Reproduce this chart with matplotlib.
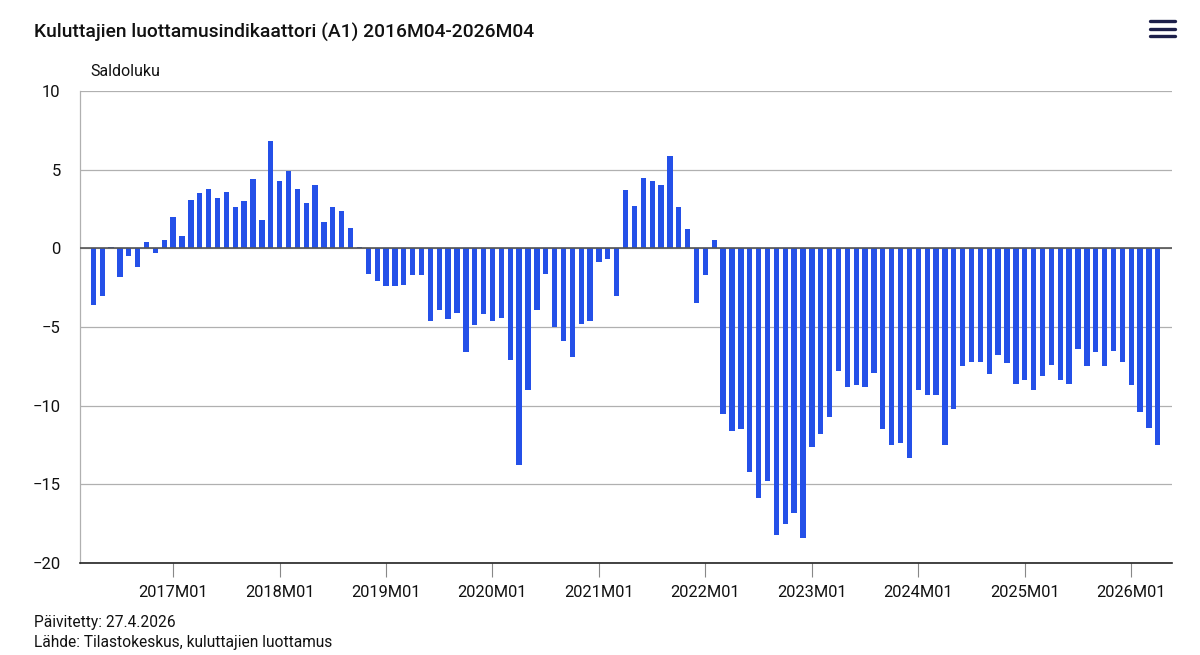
import matplotlib.pyplot as plt
from matplotlib.lines import Line2D

plt.rcParams['font.family'] = ['Roboto', 'DejaVu Sans']

# Monthly values 2016M04 - 2026M04 (saldoluku)
values = [
    -3.6, -3.0, 0.1, -1.8, -0.5, -1.2, 0.4, -0.3, 0.5,             # 2016M04-M12
    2.0, 0.8, 3.1, 3.5, 3.8, 3.2, 3.6, 2.6, 3.0, 4.4, 1.8, 6.8,     # 2017
    4.3, 4.9, 3.8, 2.9, 4.0, 1.7, 2.6, 2.4, 1.3, 0.1, -1.6, -2.1,   # 2018
    -2.4, -2.4, -2.3, -1.7, -1.7, -4.6, -3.9, -4.5, -4.1, -6.6, -4.9, -4.2,  # 2019
    -4.6, -4.4, -7.1, -13.8, -9.0, -3.9, -1.6, -5.0, -5.9, -6.9, -4.8, -4.6,  # 2020
    -0.9, -0.7, -3.0, 3.7, 2.7, 4.5, 4.3, 4.0, 5.9, 2.6, 1.2, -3.5,  # 2021
    -1.7, 0.5, -10.5, -11.6, -11.5, -14.2, -15.9, -14.8, -18.2, -17.5, -16.8, -18.4,  # 2022
    -12.6, -11.8, -10.7, -7.8, -8.8, -8.7, -8.8, -7.9, -11.5, -12.5, -12.4, -13.3,  # 2023
    -9.0, -9.3, -9.3, -12.5, -10.2, -7.5, -7.2, -7.2, -8.0, -6.8, -7.3, -8.6,  # 2024
    -8.4, -9.0, -8.1, -7.4, -8.4, -8.6, -6.4, -7.5, -6.6, -7.5, -6.5, -7.2,  # 2025
    -8.7, -10.4, -11.4, -12.5,                                       # 2026M01-M04
]
months = list(range(len(values)))
tick_labels = ['2017M01', '2018M01', '2019M01', '2020M01', '2021M01',
               '2022M01', '2023M01', '2024M01', '2025M01', '2026M01']
tick_pos = [9 + 12 * i for i in range(len(tick_labels))]
y_ticks = [10, 5, 0, -5, -10, -15, -20]

fig = plt.figure(figsize=(12, 6.55), dpi=100)
ax = fig.add_axes([80 / 1200, 1 - 563 / 655, 1092 / 1200, 472 / 655])

ax.bar(months, values, width=0.6, color='#2450e8', zorder=3)

ax.set_xlim(-1.5, 121.6)
ax.set_ylim(-20, 10)
ax.set_yticks(y_ticks)
ax.set_yticklabels([str(v).replace('-', '\u2212') for v in y_ticks])
ax.set_xticks(tick_pos)
ax.set_xticklabels(tick_labels)

ax.grid(axis='y', color='#b0b0b0', linewidth=0.9, zorder=0)
ax.axhline(0, color='#555555', linewidth=1.2, zorder=4)

for s in ['top', 'right']:
    ax.spines[s].set_visible(False)
ax.spines['left'].set_color('#b0b0b0')
ax.spines['left'].set_linewidth(0.9)
ax.spines['bottom'].set_color('#222222')
ax.spines['bottom'].set_linewidth(1.2)

ax.tick_params(axis='y', length=0, pad=14, labelsize=12, colors='#111111')
ax.tick_params(axis='x', length=10, width=0.8, color='#888888', pad=6,
               labelsize=11.8, labelcolor='#111111')

fig.text(34 / 1200, 1 - 32 / 655, 'Kuluttajien luottamusindikaattori (A1) 2016M04-2026M04',
         fontsize=13.9, fontweight='medium', va='center', ha='left', color='#111111')
fig.text(90 / 1200, 1 - 71 / 655, 'Saldoluku', fontsize=11.5, va='center', ha='left',
         color='#111111')
fig.text(34 / 1200, 1 - 622 / 655, 'Päivitetty: 27.4.2026', fontsize=11.2,
         va='center', ha='left', color='#111111')
fig.text(34 / 1200, 1 - 642 / 655, 'Lähde: Tilastokeskus, kuluttajien luottamus',
         fontsize=11.2, va='center', ha='left', color='#111111')

# hamburger menu icon
for yy in [21, 28.5, 36]:
    fig.add_artist(Line2D([1150 / 1200, 1175 / 1200], [1 - yy / 655, 1 - yy / 655],
                          color='#1c1f4a', linewidth=2.4, solid_capstyle='round'))

fig.savefig('out.png', dpi=100)
